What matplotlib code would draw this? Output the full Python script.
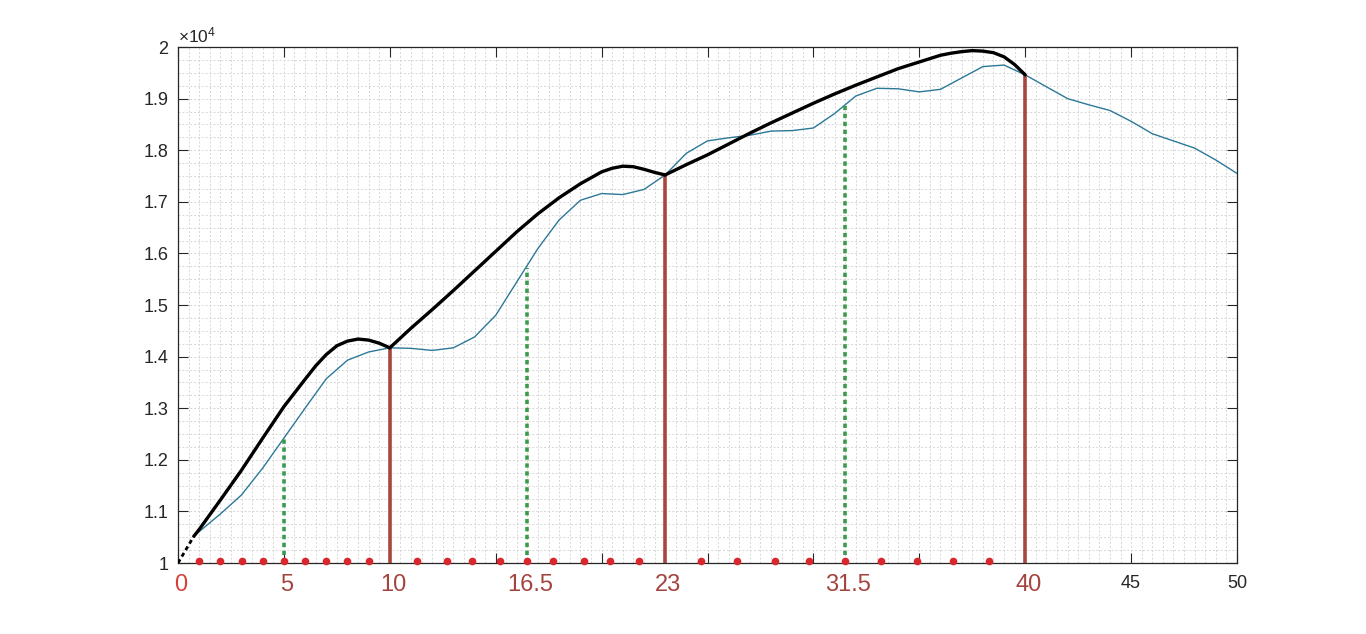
import numpy as np
import matplotlib
matplotlib.use('Agg')
import matplotlib.pyplot as plt
from matplotlib.ticker import MultipleLocator, FuncFormatter
from matplotlib.transforms import blended_transform_factory

plt.rcParams['font.family'] = ['Liberation Sans', 'DejaVu Sans']
plt.rcParams['mathtext.default'] = 'regular'

# measured curve (thin blue line)
x_meas = [0.8, 2, 3, 4, 5, 6, 7, 8, 9, 10, 11, 12, 13, 14, 15, 16, 17, 18, 19, 20,
          21, 22, 23, 24, 25, 26, 27, 28, 29, 30, 31, 32, 33, 34, 35, 36, 37, 38, 39, 40,
          41, 42, 43, 44, 45, 46, 47, 48, 49, 50]
y_meas = [10540, 10950, 11320, 11840, 12420, 13000, 13570, 13930, 14090, 14170,
          14160, 14120, 14170, 14380, 14800, 15450, 16100, 16650, 17030, 17160,
          17140, 17240, 17520, 17940, 18180, 18240, 18290, 18370, 18380, 18430,
          18710, 19050, 19200, 19190, 19130, 19180, 19400, 19620, 19650, 19460,
          19230, 19000, 18880, 18770, 18560, 18320, 18180, 18040, 17810, 17550]

# fitted envelope (thick black line), three pieces
x_fit1 = [0.75, 1, 2, 3, 4, 5, 6, 6.5, 7, 7.5, 8, 8.5, 9, 9.5, 10]
y_fit1 = [10520, 10650, 11220, 11800, 12420, 13030, 13560, 13820, 14040, 14210, 14300,
          14340, 14320, 14260, 14170]
x_fit2 = [10, 11, 12, 13, 14, 15, 16, 17, 18, 19, 20, 20.5, 21, 21.5, 22, 22.5, 23]
y_fit2 = [14170, 14550, 14910, 15280, 15660, 16040, 16420, 16770, 17080, 17350,
          17580, 17650, 17690, 17680, 17630, 17570, 17520]
x_fit3 = [23, 24, 25, 26, 27, 28, 29, 30, 31, 32, 33, 34, 35, 36, 36.5, 37, 37.5,
          38, 38.5, 39, 39.5, 40]
y_fit3 = [17520, 17720, 17910, 18120, 18330, 18530, 18720, 18910, 19090, 19260,
          19420, 19580, 19710, 19840, 19880, 19910, 19930, 19920, 19890, 19810,
          19660, 19460]
x_start = [0, 0.75]
y_start = [10000, 10520]

# vertical markers
red_x = [10, 23, 40]
red_top = [14170, 17520, 19460]
green_x = [5, 16.5, 31.5]
green_top = [12420, 15720, 18880]

# red dots along the bottom
dot_x = [1, 2, 3, 4, 5, 6, 7, 8, 9,
         11.3, 12.7, 13.9, 15.2, 16.5, 17.7, 19.15, 20.4, 21.75,
         24.7, 26.4, 28.2, 29.8, 31.5, 33.2, 34.9, 36.6, 38.3]
dot_y = 10040

label_x = [0, 5, 10, 16.5, 23, 31.5, 40]
label_txt = ['0', '5', '10', '16.5', '23', '31.5', '40']

fig = plt.figure(figsize=(13.66, 6.34), dpi=100)
ax = fig.add_axes([178 / 1366, 1 - 563 / 634, (1237 - 178) / 1366, (563 - 47) / 634])

ax.set_xlim(0, 50)
ax.set_ylim(10000, 20000)
ax.xaxis.set_major_locator(MultipleLocator(5))
ax.xaxis.set_minor_locator(MultipleLocator(0.5))
ax.yaxis.set_major_locator(MultipleLocator(1000))
ax.yaxis.set_minor_locator(MultipleLocator(250))
ax.grid(which='both', linestyle=(0, (2, 2)), color='#d6d6d6', linewidth=0.7)
ax.set_axisbelow(True)

ax.tick_params(which='major', direction='in', length=7, width=0.8, top=True, right=True,
               labelsize=13, colors='#262626', pad=7)
ax.tick_params(axis='x', which='major', pad=9)
ax.tick_params(which='minor', length=0)
ax.yaxis.set_major_formatter(FuncFormatter(lambda v, p: ('%g' % (v / 1e4))))
ax.xaxis.set_major_formatter(FuncFormatter(lambda v, p: '%d' % v if v >= 45 else ''))
for s in ax.spines.values():
    s.set_color('#262626')
    s.set_linewidth(0.9)

ax.plot(x_meas, y_meas, color='#2c7898', linewidth=1.0, zorder=3)

ax.vlines(red_x, 10000, red_top, color='#a8453f', linewidth=2.6, zorder=4)
ax.vlines(green_x, 10000, green_top, color='#3a9a4e', linewidth=2.6,
          linestyles=(0, (1.2, 1.0)), zorder=4)

for xs, ys in [(x_fit1, y_fit1), (x_fit2, y_fit2), (x_fit3, y_fit3)]:
    ax.plot(xs, ys, color='black', linewidth=2.4, solid_capstyle='round',
            solid_joinstyle='round', zorder=5)
ax.plot(x_start, y_start, color='black', linewidth=2.0, linestyle=(0, (1.5, 1.2)), zorder=5)

ax.plot(dot_x, [dot_y] * len(dot_x), 'o', color='#d9272e', markersize=5.5,
        markeredgewidth=0, zorder=6, clip_on=False)

trans = blended_transform_factory(ax.transData, ax.transAxes)
for lx, lt in zip(label_x, label_txt):
    c = '#d5413a' if lx == 0 else '#a4443f'
    ax.text(lx + 0.15, -0.042, lt, transform=trans, ha='center', va='center',
            fontsize=17, color=c)

ax.text(0.0, 1.004, r'$\times10^{4}$', transform=ax.transAxes, ha='left', va='bottom',
        fontsize=12.5, color='#262626')

plt.savefig('out.png', dpi=100)
